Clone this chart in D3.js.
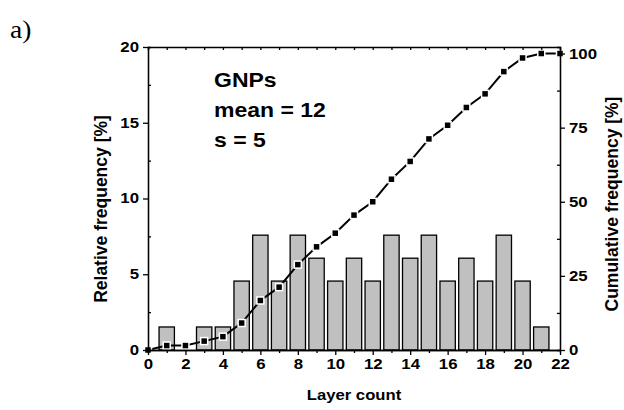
<!DOCTYPE html>
<html>
<head>
<meta charset="utf-8">
<script src="https://cdn.jsdelivr.net/npm/d3@7"></script>
<style>
  body { margin: 0; background: #fff; }
  svg text { font-family: "Liberation Sans", Arial, sans-serif; font-weight: bold; fill: #000; }
</style>
</head>
<body>
<svg width="624" height="410"></svg>
<script>
// layer counts and histogram (relative frequency, %)
var layers = [1, 3, 4, 5, 6, 7, 8, 9, 10, 11, 12, 13, 14, 15, 16, 17, 18, 19, 20, 21];
var relFreq = [1.52, 1.52, 1.52, 4.55, 7.58, 4.55, 7.58, 6.06, 4.55, 6.06, 4.55, 7.58, 6.06, 7.58, 4.55, 6.06, 4.55, 7.58, 4.55, 1.52];

// cumulative frequency (%)
var cumX = [0, 1, 2, 3, 4, 5, 6, 7, 8, 9, 10, 11, 12, 13, 14, 15, 16, 17, 18, 19, 20, 21, 22];
var cumY = [0, 1.5, 1.5, 3.0, 4.5, 9.1, 16.7, 21.2, 28.8, 34.8, 39.4, 45.5, 50.0, 57.6, 63.6, 71.2, 75.8, 81.8, 86.4, 93.9, 98.5, 100, 100];

var xTicks = [0, 2, 4, 6, 8, 10, 12, 14, 16, 18, 20, 22];
var yLeftTicks = [0, 5, 10, 15, 20];
var yRightTicks = [0, 25, 50, 75, 100];
var notes = ["GNPs", "mean = 12", "s = 5"];

var sx = 1.2; // the original lettering is a little wider than Arial

var svg = d3.select("svg"),
    margin = {top: 47, right: 64, bottom: 60, left: 148},
    width = 624 - margin.left - margin.right,
    height = 410 - margin.top - margin.bottom,
    g = svg.append("g").attr("transform", "translate(" + margin.left + "," + margin.top + ")");

var x = d3.scaleLinear().domain([0, 22]).range([0, width]),
    y = d3.scaleLinear().domain([0, 20]).range([height, 0]),
    y2 = d3.scaleLinear().domain([0, 102.2]).range([height, 0]);

var barW = x(0.82) - x(0);

// bars
g.selectAll(".bar")
  .data(layers)
  .enter().append("rect")
    .attr("class", "bar")
    .attr("x", function(d) { return x(d) - barW / 2; })
    .attr("y", function(d, i) { return y(relFreq[i]); })
    .attr("width", barW)
    .attr("height", function(d, i) { return height - y(relFreq[i]); })
    .attr("fill", "#c0c0c0")
    .attr("stroke", "#000")
    .attr("stroke-width", 1.3);

// cumulative line
var line = d3.line()
  .x(function(d) { return x(d[0]); })
  .y(function(d) { return y2(d[1]); });

var pts = cumX.map(function(d, i) { return [d, cumY[i]]; });

g.append("path")
  .datum(pts)
  .attr("d", line)
  .attr("fill", "none")
  .attr("stroke", "#000")
  .attr("stroke-width", 2);

g.selectAll(".pt")
  .data(pts)
  .enter().append("rect")
    .attr("class", "pt")
    .attr("x", function(d) { return x(d[0]) - 3.5; })
    .attr("y", function(d) { return y2(d[1]) - 3.5; })
    .attr("width", 7)
    .attr("height", 7)
    .attr("fill", "#000")
    .attr("stroke", "#fff")
    .attr("stroke-width", 1.5);

// axes
function styleAxis(sel) {
  sel.select(".domain").attr("stroke", "#000").attr("stroke-width", 1.3);
  sel.selectAll(".tick line").attr("stroke", "#000").attr("stroke-width", 1.3);
  sel.selectAll("text").style("font-size", "14px").style("font-family", "Liberation Sans, Arial, sans-serif").style("font-weight", "bold");
}

// minor ticks
g.append("g").call(d3.axisBottom(x).tickValues(d3.range(1, 22, 2)).tickSize(3).tickFormat(""))
  .attr("transform", "translate(0," + height + ")").call(styleAxis);
g.append("g").call(d3.axisLeft(y).tickValues(d3.range(2.5, 20, 5)).tickSize(-3).tickFormat(""))
  .call(styleAxis);
g.append("g").call(d3.axisRight(y2).tickValues(d3.range(12.5, 100, 25)).tickSize(-3).tickFormat(""))
  .attr("transform", "translate(" + width + ",0)").call(styleAxis);
g.append("g").call(d3.axisTop(x).tickValues(d3.range(0, 23, 1)).tickSize(-3).tickFormat(""))
  .call(styleAxis);

// major axes
var xAxis = g.append("g")
    .attr("transform", "translate(0," + height + ")")
    .call(d3.axisBottom(x).tickValues(xTicks).tickSize(5).tickPadding(4).tickSizeOuter(0))
    .call(styleAxis);
xAxis.selectAll("text").attr("transform", "scale(" + sx + ",1)");

var yAxis = g.append("g")
    .call(d3.axisLeft(y).tickValues(yLeftTicks).tickSize(5).tickPadding(4).tickSizeOuter(0))
    .call(styleAxis);
yAxis.selectAll("text").attr("transform", "scale(" + sx + ",1)").attr("x", -9 / sx);

var y2Axis = g.append("g")
    .attr("transform", "translate(" + width + ",0)")
    .call(d3.axisRight(y2).tickValues(yRightTicks).tickSize(5).tickPadding(4).tickSizeOuter(0))
    .call(styleAxis);
y2Axis.selectAll("text").attr("transform", "scale(" + sx + ",1)").attr("x", 9 / sx);

// axis titles
svg.append("text")
    .attr("transform", "translate(" + (margin.left + width / 2) + ",400) scale(1.15,1)")
    .attr("text-anchor", "middle")
    .style("font-size", "14.5px")
    .text("Layer count");

svg.append("text")
    .attr("transform", "translate(107,209) rotate(-90)")
    .attr("text-anchor", "middle")
    .style("font-size", "17.5px")
    .text("Relative frequency [%]");

svg.append("text")
    .attr("transform", "translate(618,204) rotate(-90)")
    .attr("text-anchor", "middle")
    .style("font-size", "17.5px")
    .text("Cumulative frequency [%]");

// annotation
svg.selectAll(".note")
  .data(notes)
  .enter().append("text")
    .attr("class", "note")
    .attr("transform", function(d, i) { return "translate(214," + (87 + i * 30) + ") scale(1.18,1)"; })
    .style("font-size", "19.5px")
    .text(function(d) { return d; });

svg.append("text")
    .attr("transform", "translate(10,38) scale(1.1,1)")
    .style("font-family", "Liberation Serif, Times New Roman, serif")
    .style("font-weight", "normal")
    .style("font-size", "25px")
    .text("a)");
</script>
</body>
</html>
